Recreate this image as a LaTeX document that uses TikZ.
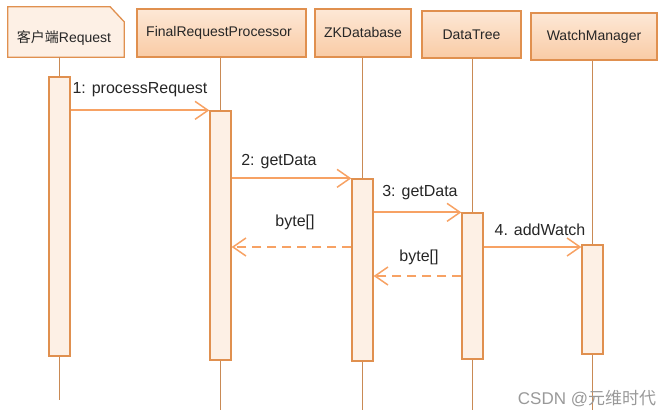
\documentclass[tikz,border=0pt]{standalone}
\usepackage{fontspec}
\setmainfont{Liberation Sans}
\newfontfamily\cjk{Noto Sans CJK SC}
\usetikzlibrary{arrows.meta,calc}
\definecolor{boxborder}{HTML}{E0904F}
\definecolor{boxtop}{HTML}{FDE8D6}
\definecolor{boxbot}{HTML}{F9CBA5}
\definecolor{barfill}{HTML}{FDF0E5}
\definecolor{lifec}{HTML}{C98A55}
\definecolor{msgc}{HTML}{F7A264}
\definecolor{txt}{HTML}{262626}
\tikzset{
  hdr/.style={draw=boxborder, line width=1.3pt, top color=boxtop, bottom color=boxbot,
    minimum height=48pt, inner sep=0pt, text=txt, font=\fontsize{14}{16}\selectfont},
  actbar/.style={draw=boxborder, line width=1.3pt, fill=barfill, minimum width=21pt, inner sep=0pt},
  lifeline/.style={draw=lifec, line width=1.5pt},
  msg/.style={draw=msgc, line width=1.8pt, -{Straight Barb[length=13pt,width=18pt,line width=1.5pt]}},
  retmsg/.style={msg, dash pattern=on 9pt off 6pt},
  lbl/.style={text=txt, font=\fontsize{16}{18}\selectfont, inner sep=0pt},
}
\begin{document}
\begin{tikzpicture}[x=1pt,y=-1pt]
\useasboundingbox (0,0) rectangle (665,419);
% headers
\node[minimum width=116pt, minimum height=50pt, inner sep=0pt] (c) at (66,32) {};
\fill[barfill] (c.north west) -- ($(c.north east)+(-14,0)$) -- ($(c.north east)+(0,15)$) -- (c.south east) -- (c.south west) -- cycle;
\draw[boxborder, line width=1.3pt] (c.north west) -- ($(c.north east)+(-14,0)$) -- ($(c.north east)+(0,15)$) -- (c.south east) -- (c.south west) -- cycle;
\node[text=txt, font=\fontsize{14}{16}\selectfont, inner sep=0pt] (ct) at (64,38) {{\cjk 客户端}Request};
\node[hdr, minimum width=169pt] (f) at (221.5,33) {};
\node[text=txt, font=\fontsize{14}{16}\selectfont, inner sep=0pt] (ft) at (219,32.5) {FinalRequestProcessor};
\node[hdr, minimum width=96pt] (z) at (363,33) {ZKDatabase};
\node[hdr, minimum width=99pt, minimum height=47pt] (d) at (471.5,34.5) {DataTree};
\node[hdr, minimum width=126pt, minimum height=47pt] (w) at (594,36.5) {WatchManager};
% lifeline ends
\coordinate (ce) at (59.5,400);
\coordinate (fe) at (220.5,410);
\coordinate (ze) at (362.5,410);
\coordinate (de) at (472.5,410);
\coordinate (we) at (592.5,410);
\draw[lifeline] (c.south -| ce) -- (ce);
\draw[lifeline] (f.south -| fe) -- (fe);
\draw[lifeline] (z.south -| ze) -- (ze);
\draw[lifeline] (d.south -| de) -- (de);
\draw[lifeline] (w.south -| we) -- (we);
% activation bars
\node[actbar, minimum height=279pt] (b1) at (59.5,216.5) {};
\node[actbar, minimum height=249pt] (b2) at (220.5,235.5) {};
\node[actbar, minimum height=182pt] (b3) at (362.5,270) {};
\node[actbar, minimum height=146pt] (b4) at (472.5,286) {};
\node[actbar, minimum height=109pt] (b5) at (592.5,299.5) {};
% messages
\draw[msg] (b1.east |- b2.north) -- (b2.north west);
\node[lbl] (l1) at (140,90) {1: processRequest};
\draw[msg] (b2.east |- b3.north) -- (b3.north west);
\node[lbl] (l2) at (279,162) {2: getData};
\coordinate (r1) at (0,247);
\draw[retmsg] (b3.west |- r1) -- (b2.east |- r1);
\node[lbl] (l3) at (295,222) {byte[]};
\draw[msg] (b3.east |- b4.north) -- (b4.north west);
\node[lbl] (l4) at (420,193) {3: getData};
\coordinate (r2) at (0,276);
\draw[retmsg] (b4.west |- r2) -- (b3.east |- r2);
\node[lbl] (l5) at (419,257) {byte[]};
\coordinate (m4) at (0,247);
\draw[msg] (b4.east |- m4) -- (b5.west |- m4);
\node[lbl] (l6) at (540,230) {4. addWatch};
% watermark
\node[text=black!40, font=\fontsize{17}{19}\selectfont, inner sep=0pt] (wm) at (587,399) {CSDN @{\cjk 元维时代}};
\end{tikzpicture}
\end{document}
